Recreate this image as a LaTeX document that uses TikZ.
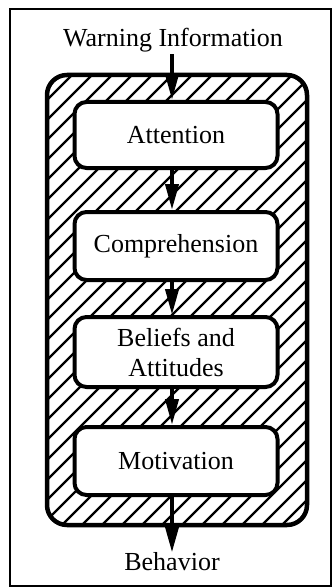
\documentclass[tikz,border=0pt]{standalone}
\usepackage{fontspec}
\setmainfont{Liberation Serif}
\usetikzlibrary{arrows.meta}
\begin{document}
\begin{tikzpicture}[x=1pt,y=-1pt,
  txt/.style={font=\fontsize{26}{30}\selectfont, inner sep=0pt},
  stage/.style={draw, fill=white, line width=4pt, rounded corners=12pt,
    minimum width=203pt, minimum height=66pt, align=center,
    font=\fontsize{26}{30}\selectfont, inner sep=0pt},
  flow/.style={line width=4pt, -{Triangle[length=26pt,width=13pt]}},
  hatch/.style={line width=2.3pt}]
\useasboundingbox (0,0) rectangle (333,588);
\draw[line width=1.5pt] (10,9) rectangle (331,586);
% hatched region
\begin{scope}
  \clip[rounded corners=20pt] (47,75) rectangle (307,525);
  \foreach \i in {0,...,37}{
    \draw[hatch] ({-403+20*\i},530) -- ++(460,-460);
  }
\end{scope}
\draw[line width=4.5pt, rounded corners=20pt] (47,75) rectangle (307,525);
% nodes
\node[txt] (warn) at (173,40) {Warning Information};
\node[stage] (att) at (176,135) {Attention};
\node[stage, minimum height=68pt] (comp) at (176,246) {Comprehension};
\node[stage, minimum height=70pt] (bel) at (176,352) {Beliefs and\\Attitudes};
\node[stage, minimum height=68pt] (mot) at (176,461) {Motivation};
\node[txt] (beh) at (172,562) {Behavior};
% arrows
\draw[flow] (warn.south -| 172,0) ++(0,2) -- (att.north -| 172,0);
\draw[flow] (att.south -| 172,0) -- (comp.north -| 172,0);
\draw[flow] (comp.south -| 172,0) -- (bel.north -| 172,0);
\draw[flow] (bel.south -| 172,0) -- (mot.north -| 172,0);
\draw[flow] (mot.south -| 172,0) -- (beh.north -| 172,0);
\end{tikzpicture}
\end{document}
